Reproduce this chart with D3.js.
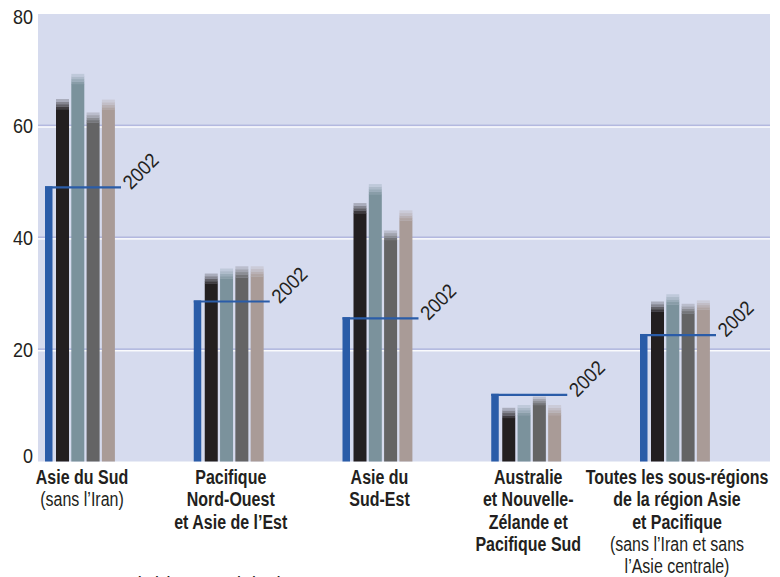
<!DOCTYPE html>
<html>
<head>
<meta charset="utf-8">
<script src="https://cdn.jsdelivr.net/npm/d3@7"></script>
<style>
  html, body { margin: 0; padding: 0; background: #ffffff; }
  svg { display: block; }
</style>
</head>
<body>
<svg id="chart" width="780" height="577"></svg>
<script>
// Sub-regions (x categories), split into label lines
const regions = ["Asie du Sud", "Pacifique Nord-Ouest et Asie de l’Est", "Asie du Sud-Est",
                 "Australie et Nouvelle-Zélande et Pacifique Sud", "Toutes les sous-régions"];
const regionTitleLines = [
  ["Asie du Sud"],
  ["Pacifique", "Nord-Ouest", "et Asie de l’Est"],
  ["Asie du", "Sud-Est"],
  ["Australie", "et Nouvelle-", "Zélande et", "Pacifique Sud"],
  ["Toutes les sous-régions", "de la région Asie", "et Pacifique"]
];
const regionNoteLines = [
  ["(sans l’Iran)"],
  [],
  [],
  [],
  ["(sans l’Iran et sans", "l’Asie centrale)"]
];

// Scenarios drawn as the four grey-toned bars
const scenarios = ["Marché d’abord", "Priorité aux politiques", "Priorité à la sécurité", "Priorité à la durabilité"];
const scenarioColors = ["#231f20", "#7b929c", "#646465", "#a99b97"];

// Reference year values (blue marker)
const baseYear = "2002";
const values2002 = [49.0, 28.6, 25.6, 11.9, 22.6];

// Scenario values: solid part and top of the faded range, per region
const scenarioLow = [
  [63.0, 67.5, 60.6, 62.9],
  [31.8, 32.7, 32.9, 33.1],
  [44.4, 47.8, 39.6, 43.1],
  [7.8, 8.3, 10.1, 8.3],
  [26.8, 28.1, 26.5, 27.2]
];
const scenarioHigh = [
  [64.8, 69.3, 62.4, 64.7],
  [33.6, 34.5, 34.9, 34.9],
  [46.2, 49.6, 41.3, 44.9],
  [9.6, 10.1, 11.6, 10.1],
  [28.6, 29.9, 28.2, 28.8]
];

const yTicks = [0, 20, 40, 60, 80];
const sourceText = "Source : IMAGE 2.2 (voir l’annexe technique)";

// ---- layout ----
const plot = { left: 38, right: 770, top: 14, bottom: 461.5 };
const bg = "#d6dbee";
const blue = "#2a5ca8";
const ink = "#231f20";
const font = "'Liberation Sans', Arial, sans-serif";
const condense = 0.82;   // horizontal squeeze for a condensed look

const svg = d3.select("#chart");

const y = d3.scaleLinear().domain([0, 80]).range([plot.bottom, plot.top]);
const x = d3.scaleBand().domain(regions).range([45, 45 + 5 * 148.75]).paddingInner(0).paddingOuter(0);
const xs = d3.scaleBand().domain(scenarios).range([11, 69.9]).paddingInner(0.15).paddingOuter(0);

// text drawn with a horizontal squeeze
function squeezedText(parent, tx, ty, str, opts) {
  const o = Object.assign({ size: 19.5, weight: "normal", anchor: "middle", sx: condense, rotate: 0 }, opts || {});
  const g = parent.append("g")
    .attr("transform", `translate(${tx},${ty}) rotate(${o.rotate}) scale(${o.sx},1)`);
  return g.append("text")
    .attr("text-anchor", o.anchor)
    .attr("font-family", font)
    .attr("font-weight", o.weight)
    .attr("font-size", o.size)
    .attr("fill", ink)
    .text(str);
}

// plot background
svg.append("rect")
  .attr("x", plot.left).attr("y", plot.top)
  .attr("width", plot.right - plot.left).attr("height", plot.bottom - plot.top)
  .attr("fill", bg);

// gridlines: lavender rule with a white highlight under it
const grid = svg.append("g");
yTicks.filter(v => v > 0 && v < 80).forEach(v => {
  grid.append("rect").attr("x", plot.left).attr("width", plot.right - plot.left)
    .attr("y", y(v) - 1.3).attr("height", 1.6).attr("fill", "#b3b8df");
  grid.append("rect").attr("x", plot.left).attr("width", plot.right - plot.left)
    .attr("y", y(v) + 0.5).attr("height", 1.3).attr("fill", "#ffffff");
});

// y tick labels
const yAxisG = svg.append("g");
yTicks.forEach(v => {
  const t = squeezedText(yAxisG, 33, y(v) + (v === 0 ? -6 : v === 80 ? 3 : 0), v,
    { size: 20, anchor: "end", sx: 0.9 });
  t.attr("dy", "0.35em");
});

// faded cap for a bar: bands blending from the bar colour to the background
function capBands(color) {
  return [0.15, 0.35, 0.55, 0.75].map(t => d3.interpolateRgb(color, bg)(t));
}

const groups = svg.append("g").selectAll("g").data(regions).join("g")
  .attr("transform", d => `translate(${x(d)},0)`);

groups.each(function(region, i) {
  const g = d3.select(this);
  scenarios.forEach((s, j) => {
    const lo = scenarioLow[i][j], hi = scenarioHigh[i][j];
    const bx = xs(s), bw = xs.bandwidth();
    g.append("rect")
      .attr("x", bx).attr("width", bw)
      .attr("y", y(lo)).attr("height", y(0) - y(lo))
      .attr("fill", scenarioColors[j]);
    const bands = capBands(scenarioColors[j]);
    const step = (hi - lo) / bands.length;
    bands.forEach((c, k) => {
      const v0 = lo + k * step, v1 = lo + (k + 1) * step;
      g.append("rect")
        .attr("x", bx).attr("width", bw)
        .attr("y", y(v1)).attr("height", y(v0) - y(v1) + 0.3)
        .attr("fill", c);
    });
  });

  // reference year: thick blue bar with a rule carried across the group
  const v = values2002[i];
  g.append("rect")
    .attr("x", 0).attr("width", 7.5)
    .attr("y", y(v) - 1.1).attr("height", y(0) - y(v) + 1.1)
    .attr("fill", blue);
  g.append("line")
    .attr("x1", 0).attr("x2", 76)
    .attr("y1", y(v)).attr("y2", y(v))
    .attr("stroke", blue).attr("stroke-width", 2.2);
  squeezedText(g, 76 + 10, y(v) + 3, baseYear, { size: 20, anchor: "start", sx: 0.92, rotate: -45 });

  // category labels
  const cx = 37;
  let line = 0;
  regionTitleLines[i].forEach(t => {
    squeezedText(g, cx, 483.5 + line * 22.5, t, { weight: "bold" });
    line++;
  });
  regionNoteLines[i].forEach(t => {
    squeezedText(g, cx, 484 + line * 22.2, t, {});
    line++;
  });
});

// source line along the bottom edge
squeezedText(svg, 20, 586.5, sourceText, { size: 15, weight: "bold", anchor: "start" });
</script>
</body>
</html>
